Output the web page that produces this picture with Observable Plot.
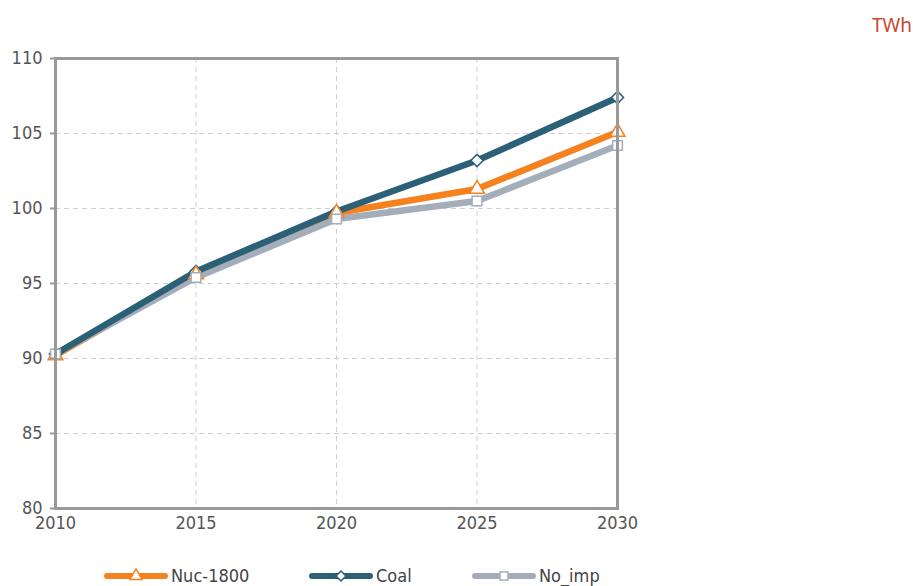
<!DOCTYPE html>
<html>
<head>
<meta charset="utf-8">
<script src="https://cdn.jsdelivr.net/npm/d3@7"></script>
<script src="https://cdn.jsdelivr.net/npm/@observablehq/plot@0.6"></script>
<style>
  body { margin: 0; background: #fff; font-family: "DejaVu Sans Condensed", "DejaVu Sans", sans-serif; }
  #wrap { position: relative; width: 913px; height: 586px; overflow: hidden; }
  #unit { position: absolute; right: 1px; top: 12px; color: #c8482c; font-size: 19px; font-family: "Noto Sans", sans-serif; }
  #legend { position: absolute; left: 0; top: 564px; width: 913px; font-size: 18px; color: #444; }
  .item { position: absolute; display: flex; align-items: center; }
  .item svg { margin-right: 3px; }
</style>
</head>
<body>
<div id="wrap">
  <div id="chart"></div>
  <div id="unit">TWh</div>
  <div id="legend"></div>
</div>
<script>
const years = [2010, 2015, 2020, 2025, 2030];
const seriesNames = ["Nuc-1800", "Coal", "No_imp"];
const nuc1800 = [90.2, 95.6, 99.7, 101.3, 105.1];
const coal = [90.3, 95.8, 99.8, 103.2, 107.4];
const noImp = [90.3, 95.4, 99.3, 100.5, 104.2];
const yTicks = [80, 85, 90, 95, 100, 105, 110];
const xTicks = [2010, 2015, 2020, 2025, 2030];

const colors = {"Nuc-1800": "#f5821f", "Coal": "#2b6077", "No_imp": "#a4aebb"};
const symbols = {"Nuc-1800": "triangle", "Coal": "diamond2", "No_imp": "square"};

const valuesBy = {"Nuc-1800": nuc1800, "Coal": coal, "No_imp": noImp};
const data = seriesNames.flatMap(s => years.map((y, i) => ({series: s, year: y, value: valuesBy[s][i]})));
const lineOrder = ["Nuc-1800", "No_imp", "Coal"];
const dotOrder = ["Coal", "Nuc-1800", "No_imp"];

const marks = [
  Plot.gridY(yTicks, {stroke: "#d0d0d0", strokeOpacity: 1, strokeDasharray: "5,4", strokeWidth: 1}),
  Plot.gridX(xTicks, {stroke: "#d0d0d0", strokeOpacity: 1, strokeDasharray: "5,4", strokeWidth: 1}),
  ...lineOrder.map(s => Plot.line(data.filter(d => d.series === s), {x: "year", y: "value", stroke: colors[s], strokeWidth: 6.5})),
  ...dotOrder.map(s => Plot.dot(data.filter(d => d.series === s), {x: "year", y: "value", symbol: () => symbols[s], stroke: colors[s], fill: "white", strokeWidth: 1.5, r: 5.5})),
  Plot.frame({stroke: "#999", strokeWidth: 3}),
  Plot.axisY(yTicks, {tickSize: 5, tickPadding: 8, stroke: "#999", strokeWidth: 2, fontSize: 18, fill: "#555", label: null}),
  Plot.axisX(xTicks, {tickSize: 0, tickPadding: 8, fontSize: 18, fill: "#555", label: null, tickFormat: d => String(d)})
];

const chart = Plot.plot({
  width: 913,
  height: 586,
  marginLeft: 55,
  marginRight: 296,
  marginTop: 58,
  marginBottom: 78,
  style: {fontFamily: '"DejaVu Sans Condensed", "DejaVu Sans", sans-serif', fontSize: "18px", background: "white", overflow: "visible"},
  x: {domain: [2010, 2030]},
  y: {domain: [80, 110]},
  symbol: {type: "identity"},
  marks
});
document.getElementById("chart").appendChild(chart);

// Legend
const legendX = {"Nuc-1800": 104, "Coal": 309, "No_imp": 472};
const legend = document.getElementById("legend");
for (const s of seriesNames) {
  const item = document.createElement("div");
  item.className = "item";
  item.style.left = legendX[s] + "px";
  const sw = d3.create("svg").attr("width", 64).attr("height", 22);
  sw.append("line").attr("x1", 3).attr("x2", 61).attr("y1", 12).attr("y2", 12)
    .attr("stroke", colors[s]).attr("stroke-width", 6).attr("stroke-linecap", "round");
  const sym = {"triangle": d3.symbolTriangle, "diamond2": d3.symbolDiamond2, "square": d3.symbolSquare}[symbols[s]];
  sw.append("path").attr("d", d3.symbol(sym, 64)()).attr("transform", "translate(32,12)")
    .attr("fill", "white").attr("stroke", colors[s]).attr("stroke-width", 1.5);
  item.appendChild(sw.node());
  const t = document.createElement("span");
  t.textContent = s;
  item.appendChild(t);
  legend.appendChild(item);
}
</script>
</body>
</html>
